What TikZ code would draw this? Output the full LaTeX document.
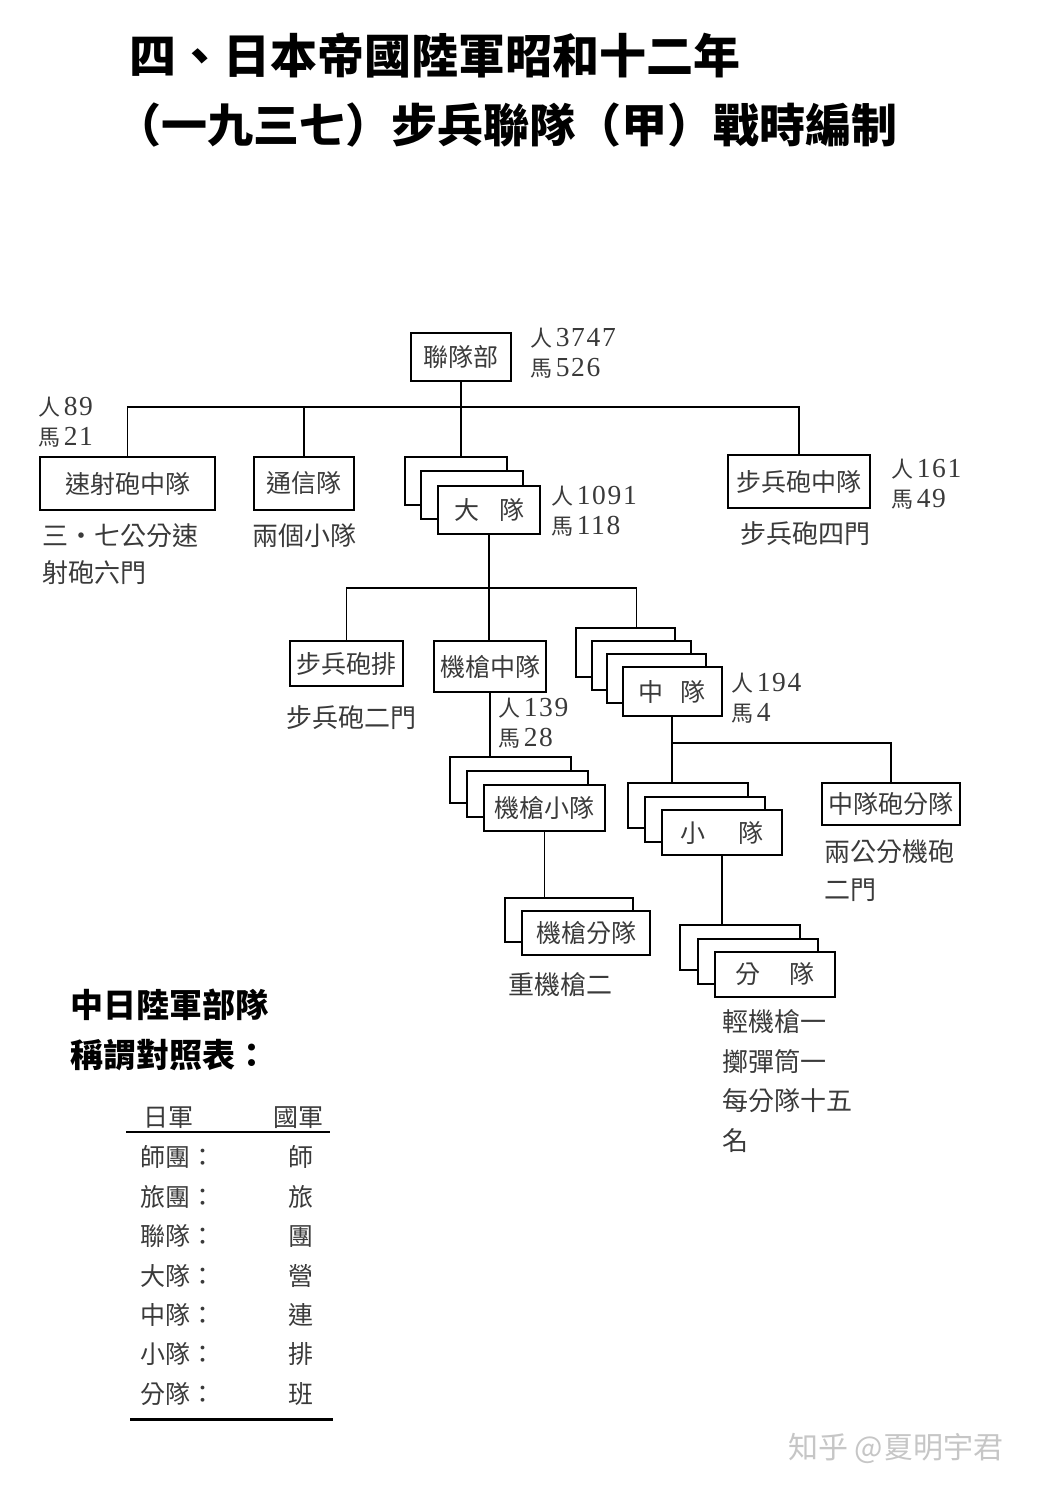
\documentclass[tikz,border=0pt]{standalone}
\usepackage{fontspec}
\setmainfont{Noto Sans CJK TC}
\newfontfamily\num[Scale=1.25,LetterSpace=6]{Liberation Serif}
\usetikzlibrary{positioning}
\definecolor{ink}{HTML}{3A3A3A}

\begin{document}
\begin{tikzpicture}[x=1pt,y=-1pt,
  unit/.style={draw=black, line width=2pt, fill=white, text=ink, inner sep=0pt,
    minimum width=#1, minimum height=46pt, font=\fontsize{25}{30}\selectfont},
  count/.style={anchor=west, align=left, inner sep=0pt, text=ink, font=\fontsize{22}{30}\selectfont},
  note/.style={anchor=west, align=left, inner sep=0pt, text=ink, font=\fontsize{26}{37}\selectfont},
  cell/.style={anchor=west, inner sep=0pt, text=ink, font=\fontsize{25}{30}\selectfont},
  link/.style={line width=1.8pt}]
\fill[white] (0,0) rectangle (1041,1492);
\useasboundingbox (0,0) rectangle (1041,1492);

% title
\node[anchor=west, font=\fontsize{47}{50}\selectfont\bfseries] (title1) at (126,55) {四、日本帝國陸軍昭和十二年};
\node[anchor=west, font=\fontsize{46}{50}\selectfont\bfseries] (title2) at (112,125) {（一九三七）步兵聯隊（甲）戰時編制};

% top level
\node[unit=100, minimum height=48pt] (hq) at (461,357) {聯隊部};
\node[count] (hqn) at (530,353) {人\,{\num 3747}\\馬\,{\num 526}};
\node[unit=175, minimum height=53pt] (sushe) at (127.5,483.5) {速射砲中隊};
\node[count] (sushen) at (38,422.5) {人\,{\num 89}\\馬\,{\num 21}};
\node[note] (sushet) at (42,554.5) {三・七公分速\\射砲六門};
\node[unit=100, minimum height=53pt] (tongxin) at (304,483.5) {通信隊};
\node[note] (tongxint) at (252,536) {兩個小隊};
\node[unit=102, minimum height=48pt] (daduiA) at (456,481) {};
\node[unit=102, minimum height=48pt] (daduiB) at ([shift={(16,14)}]daduiA) {};
\node[unit=102, minimum height=48pt] (daduiC) at ([shift={(17,15)}]daduiB) {大\hspace{0.8em}隊};
\node[count] (daduin) at (551,511) {人\,{\num 1091}\\馬\,{\num 118}};
\node[unit=142, minimum height=53pt] (bubingpao) at (799,481.5) {步兵砲中隊};
\node[count] (bubingpaon) at (891,484) {人\,{\num 161}\\馬\,{\num 49}};
\node[note] (bubingpaot) at (740,534) {步兵砲四門};

% battalion
\node[unit=113, minimum height=45pt] (paipai) at (346.5,663.5) {步兵砲排};
\node[note] (paipait) at (286,718) {步兵砲二門};
\node[unit=112, minimum height=51pt] (jqzd) at (490,666.5) {機槍中隊};
\node[count] (jqzdn) at (498,723.5) {人\,{\num 139}\\馬\,{\num 28}};
\node[unit=99, minimum height=49pt] (zdA) at (625.5,652.5) {};
\node[unit=99, minimum height=49pt] (zdB) at ([shift={(15.5,13)}]zdA) {};
\node[unit=99, minimum height=49pt] (zdC) at ([shift={(15.5,13)}]zdB) {};
\node[unit=99, minimum height=49pt] (zdD) at ([shift={(15.5,13)}]zdC) {中\hspace{0.7em}隊};
\node[count] (zdn) at (731,698.5) {人\,{\num 194}\\馬\,{\num 4}};

% machine gun company
\node[unit=121] (jqxdA) at (510.5,780) {};
\node[unit=121] (jqxdB) at ([shift={(17,14)}]jqxdA) {};
\node[unit=121] (jqxdC) at ([shift={(17,14)}]jqxdB) {機槍小隊};
\node[unit=128, minimum height=44pt] (jqfdA) at (569,920) {};
\node[unit=128, minimum height=44pt] (jqfdB) at ([shift={(17,13)}]jqfdA) {機槍分隊};
\node[note] (jqfdt) at (508,985) {重機槍二};

% company
\node[unit=120, minimum height=45pt] (xdA) at (688,805.5) {};
\node[unit=120, minimum height=45pt] (xdB) at ([shift={(17,13.5)}]xdA) {};
\node[unit=120, minimum height=45pt] (xdC) at ([shift={(17,13.5)}]xdB) {小\hspace{1.3em}隊};
\node[unit=138, minimum height=42pt] (zdpao) at (891,804) {中隊砲分隊};
\node[note, font=\fontsize{26}{38}\selectfont] (zdpaot) at (824,871) {兩公分機砲\\二門};
\node[unit=120, minimum height=45pt] (fdA) at (740,947.5) {};
\node[unit=120, minimum height=45pt] (fdB) at ([shift={(17.5,13.5)}]fdA) {};
\node[unit=120, minimum height=45pt] (fdC) at ([shift={(17.5,13.5)}]fdB) {分\hspace{1.2em}隊};
\node[note, font=\fontsize{26}{39.5}\selectfont] (fdt) at (722,1081) {輕機槍一\\擲彈筒一\\每分隊十五\\名};

% connectors
\coordinate (bus1) at (461,407);
\coordinate (bus2) at (489,588);
\coordinate (bus3) at (672,743);
\draw[link] (hq.south) -- (hq.south |- daduiA.north);
\draw[link] (sushe.north) |- (bus1) -| (bubingpao.north);
\draw[link] (tongxin.north) -- (tongxin.north |- bus1);
\draw[link] (daduiC.south) -- (daduiC.south |- jqzd.north);
\draw[link] (paipai.north) |- (bus2) -| ([xshift=11pt]zdA.north);
\draw[link] (jqzd.south) -- (jqzd.south |- jqxdA.north);
\draw[link] (jqxdC.south) -- (jqxdC.south |- jqfdA.north);
\draw[link] (zdD.south) -- (bus3) -| (zdpao.north);
\draw[link] (bus3) -- (bus3 |- xdA.north);
\draw[link] (xdC.south) -- (xdC.south |- fdA.north);

% table
\node[anchor=west, align=left, inner sep=0pt, font=\fontsize{33}{50}\selectfont\bfseries] (legend) at (70,1030) {中日陸軍部隊\\稱謂對照表：};
\node[cell] (hdjp) at (143,1118) {日軍};
\node[cell] (hdcn) at (273,1118) {國軍};
\coordinate (r1a) at (126,1132);
\coordinate (r1b) at (330,1132);
\coordinate (r2a) at (130,1419);
\coordinate (r2b) at (333,1419);
\draw[line width=2pt] (r1a) -- (r1b);
\draw[line width=3pt] (r2a) -- (r2b);
\foreach \a/\b [count=\i] in {師團/師, 旅團/旅, 聯隊/團, 大隊/營, 中隊/連, 小隊/排, 分隊/班} {
  \node[cell] (jp\i) at (140,1118+39.4*\i) {\a：};
  \node[cell] (cn\i) at (288,1118+39.4*\i) {\b};
}

\node[anchor=west, inner sep=0pt, text=gray!45, font=\fontsize{30}{34}\selectfont] (mark) at (788,1448) {知乎 @夏明宇君};
\end{tikzpicture}
\end{document}
